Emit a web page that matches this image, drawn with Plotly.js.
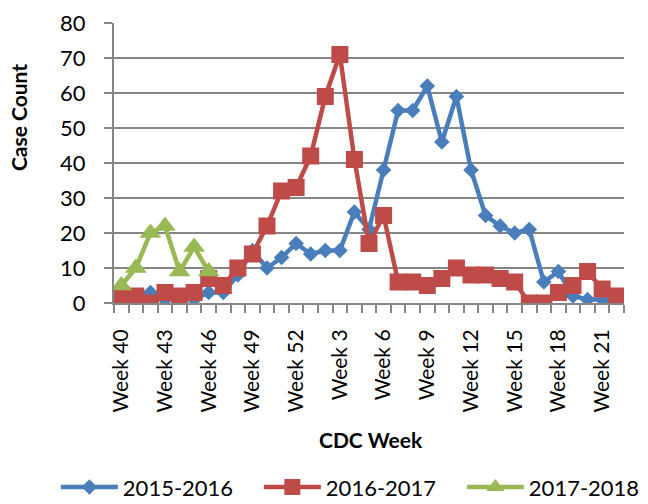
<!DOCTYPE html>
<html>
<head>
<meta charset="utf-8">
<script src="https://cdn.plot.ly/plotly-3.0.1.min.js"></script>
<style>html,body{margin:0;padding:0;background:#fff;}#chart{width:648px;height:504px;}</style>
</head>
<body>
<div id="chart"></div>
<script>
// Categories: CDC weeks 40-52 then 1-22
const weeks = ["Week 40","Week 41","Week 42","Week 43","Week 44","Week 45","Week 46","Week 47","Week 48","Week 49","Week 50","Week 51","Week 52",
  "Week 1","Week 2","Week 3","Week 4","Week 5","Week 6","Week 7","Week 8","Week 9","Week 10","Week 11","Week 12","Week 13","Week 14","Week 15","Week 16","Week 17","Week 18","Week 19","Week 20","Week 21","Week 22"];
const tickLabels = ["Week 40","Week 43","Week 46","Week 49","Week 52","Week 3","Week 6","Week 9","Week 12","Week 15","Week 18","Week 21"];
const seriesNames = ["2015-2016","2016-2017","2017-2018"];
const s2015 = [1,1,3,1,2,1,3,3,8,15,10,13,17,14,15,15,26,21,38,55,55,62,46,59,38,25,22,20,21,6,9,2,1,1,0];
const s2016 = [2,2,0,3,2,3,7,5,10,14,22,32,33,42,59,71,41,17,25,6,6,5,7,10,8,8,7,6,0,0,3,5,9,4,2];
const s2017 = [5,10,20,22,9,16,9];
const xTitle = "CDC Week", yTitle = "Case Count";

const xIdx = weeks.map((w,i)=>i);
const tickIdx = tickLabels.map(t=>weeks.indexOf(t));

const blue = "#4A7EBB", red = "#BE4B48", green = "#98B954";
const traces = [
  {x: xIdx.slice(0, s2015.length), y: s2015, name: seriesNames[0], mode: "lines+markers", text: weeks,
   line: {color: blue, width: 4.5}, marker: {symbol: "diamond", size: 12, color: blue}},
  {x: xIdx.slice(0, s2016.length), y: s2016, name: seriesNames[1], mode: "lines+markers", text: weeks,
   line: {color: red, width: 4.5}, marker: {symbol: "square", size: 17, color: red}},
  {x: xIdx.slice(0, s2017.length), y: s2017, name: seriesNames[2], mode: "lines+markers", text: weeks,
   line: {color: green, width: 4.5}, marker: {symbol: "triangle-up", size: 19, color: green}}
];

const layout = {
  width: 648, height: 504,
  margin: {l: 114, r: 24, t: 23, b: 201, autoexpand: false},
  paper_bgcolor: "#fff", plot_bgcolor: "#fff",
  font: {family: "Lato, 'Noto Sans', sans-serif", color: "#000", size: 21},
  showlegend: true,
  legend: {orientation: "h", x: -0.114, xanchor: "left", y: -0.658, yanchor: "middle",
    entrywidth: 131, entrywidthmode: "pixels", itemwidth: 57,
    font: {size: 22, family: "Lato, sans-serif"}, traceorder: "normal"},
  xaxis: {
    range: [-0.5, weeks.length - 0.5], tickmode: "array", tickvals: tickIdx, ticktext: tickLabels,
    tickangle: -90, ticks: "", ticklabelstandoff: 16, showgrid: false, zeroline: false, automargin: false,
    showline: true, linecolor: "#868686", linewidth: 2,
    minor: {tick0: -0.5, dtick: 1, ticks: "outside", ticklen: 8, tickcolor: "#868686", tickwidth: 2, showgrid: false},
    tickfont: {size: 21}
  },
  yaxis: {
    range: [0, 80], dtick: 10, ticks: "outside", ticklen: 8, tickcolor: "#868686", tickwidth: 2,
    ticklabelstandoff: 14, automargin: false,
    showgrid: true, gridcolor: "#868686", gridwidth: 1.5, zeroline: false,
    showline: true, linecolor: "#868686", linewidth: 2,
    tickfont: {size: 22}
  },
  annotations: [
    {text: xTitle, xref: "paper", yref: "paper", x: 0.504, y: -0.489, xanchor: "center", yanchor: "middle",
     showarrow: false, font: {size: 21, family: "Lato, sans-serif", weight: "bold"}},
    {text: yTitle, xref: "paper", yref: "paper", x: -0.186, y: 0.661, xanchor: "center", yanchor: "middle",
     textangle: -90, showarrow: false, font: {size: 21, family: "Lato, sans-serif", weight: "bold"}}
  ]
};
Plotly.newPlot("chart", traces, layout, {displayModeBar: false, staticPlot: true});
</script>
</body>
</html>
